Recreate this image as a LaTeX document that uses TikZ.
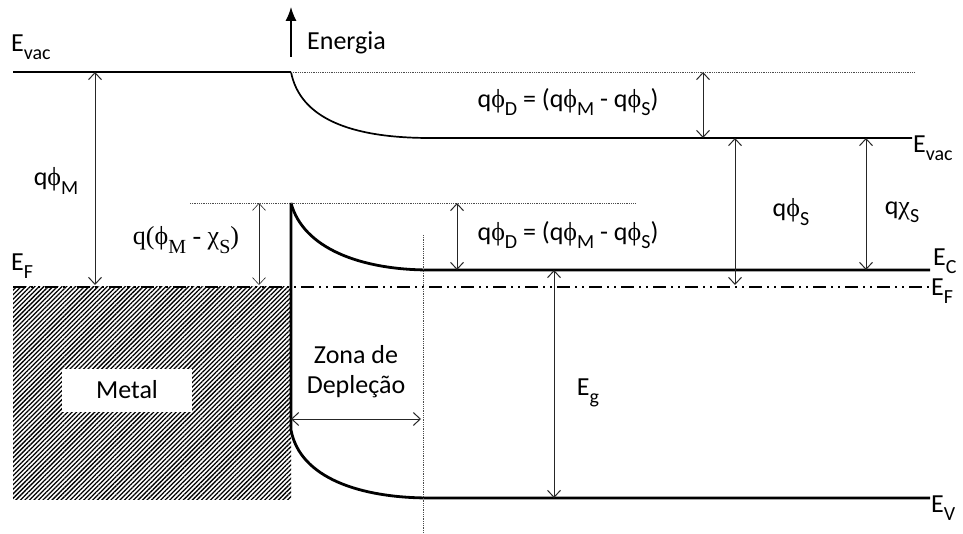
\documentclass[tikz,border=0pt]{standalone}
\usepackage{fontspec}
\setmainfont{Carlito}
\newfontfamily\grk{Liberation Serif}
\usetikzlibrary{arrows.meta,patterns.meta}
\newcommand{\lowtxt}[1]{\raisebox{-0.32em}{\fontsize{20}{20}\selectfont #1}}
\newcommand{\ph}{{\grk ϕ}}
\newcommand{\ch}{{\grk χ}}
\tikzset{
  lbl/.style={font=\fontsize{26}{30}\selectfont, inner sep=1pt},
  band/.style={line width=1.7pt},
  bandthick/.style={line width=2.8pt},
  gap/.style={{Straight Barb[length=7pt,width=13pt]}-{Straight Barb[length=7pt,width=13pt]},
    line width=1pt, black!85},
  guide/.style={densely dotted, line width=0.8pt, black!70},
  fermi/.style={line width=1.3pt, dash pattern=on 13pt off 5pt on 2pt off 5pt on 2pt off 5pt}
}

\begin{document}
\begin{tikzpicture}[x=1pt,y=-1pt]
  \useasboundingbox (0,0) rectangle (963,534);

  % pontos principais
  \coordinate (vacL) at (13,72);
  \coordinate (junc) at (291,72);
  \coordinate (vacB) at (430,138);
  \coordinate (vacR) at (912,138);
  \coordinate (vacD) at (915,72);
  \coordinate (cTop) at (291,203);
  \coordinate (cB) at (430,270);
  \coordinate (cR) at (930,270);
  \coordinate (vTop) at (291,430);
  \coordinate (vB) at (430,498);
  \coordinate (vR) at (930,498);
  \coordinate (fL) at (13,287);
  \coordinate (fR) at (930,287);

  % metal
  \fill[pattern={Lines[angle=45,distance=3.2pt,line width=1.3pt]}] (fL) rectangle (291,499);
  \node[lbl, fill=white, minimum width=130pt, minimum height=43pt] (metal) at (127,390) {Metal};

  % eixo de energia
  \coordinate (eixo0) at (291,57);
  \coordinate (eixo1) at (291,7);
  \draw[-{Latex[length=14pt,width=11pt]}, line width=1.2pt] (eixo0) -- (eixo1);
  \node[lbl, anchor=west] (energia) at (306,43) {Energia};

  % bandas
  \draw[band] (vacL) -- (junc);
  \draw[band] (junc) .. controls (300,118) and (350,138) .. (vacB) -- (vacR);
  \draw[bandthick] (cTop) .. controls (303,248) and (360,270) .. (cB) -- (cR);
  \draw[bandthick] (cTop) -- (vTop) .. controls (300,478) and (360,498) .. (vB) -- (vR);
  \draw[fermi] (fL) -- (fR);

  % linhas de referencia
  \coordinate (dotC0) at (190,203);
  \coordinate (dotC1) at (636,203);
  \coordinate (dep0) at (423,235);
  \coordinate (dep1) at (423,534);
  \draw[guide] (junc) -- (vacD);
  \draw[guide] (dotC0) -- (dotC1);
  \draw[guide] (dep0) -- (dep1);

  % cotas
  \coordinate (phiM0) at (95,72);
  \coordinate (phiM1) at (95,285);
  \coordinate (bar0) at (259,203);
  \coordinate (bar1) at (259,285);
  \coordinate (phiDa0) at (703,72);
  \coordinate (phiDa1) at (703,138);
  \coordinate (phiDb0) at (457,203);
  \coordinate (phiDb1) at (457,270);
  \coordinate (phiS0) at (735,138);
  \coordinate (phiS1) at (735,285);
  \coordinate (chiS0) at (866,138);
  \coordinate (chiS1) at (866,270);
  \coordinate (eg0) at (554,270);
  \coordinate (eg1) at (554,498);
  \coordinate (zona0) at (291,419);
  \coordinate (zona1) at (421,419);
  \draw[gap] (phiM0) -- (phiM1);
  \draw[gap, line width=0.6pt] (bar0) -- (bar1);
  \draw[gap] (phiDa0) -- (phiDa1);
  \draw[gap] (phiDb0) -- (phiDb1);
  \draw[gap] (phiS0) -- (phiS1);
  \draw[gap] (chiS0) -- (chiS1);
  \draw[gap] (eg0) -- (eg1);
  \draw[gap] (zona0) -- (zona1);

  % rotulos
  \node[lbl, anchor=west] (evacL) at (10,47) {E\lowtxt{vac}};
  \node[lbl, anchor=west] (efL) at (10,266) {E\lowtxt{F}};
  \node[lbl] (qphiM) at (56,181) {q\ph\lowtxt{M}};
  \node[lbl, font=\fontsize{26}{30}\grk] (barr) at (186,240) {q(ϕ\lowtxt{M} - χ\lowtxt{S})};
  \node[lbl] (qphiDa) at (568,102) {q\ph\lowtxt{D} = (q\ph\lowtxt{M} - q\ph\lowtxt{S})};
  \node[lbl] (qphiDb) at (568,235) {q\ph\lowtxt{D} = (q\ph\lowtxt{M} - q\ph\lowtxt{S})};
  \node[lbl] (qphiS) at (791,212) {q\ph\lowtxt{S}};
  \node[lbl] (qchiS) at (902,212) {q\ch\lowtxt{S}};
  \node[lbl, anchor=west] (evacR) at (912,148) {E\lowtxt{vac}};
  \node[lbl, anchor=west] (ec) at (932,261) {E\lowtxt{C}};
  \node[lbl, anchor=west] (ef) at (930,291) {E\lowtxt{F}};
  \node[lbl, anchor=west] (ev) at (930,508) {E\lowtxt{V}};
  \node[lbl] (eg) at (588,393) {E\lowtxt{g}};
  \node[lbl, align=center] (zona) at (356,372) {Zona de\\Depleção};
\end{tikzpicture}
\end{document}
